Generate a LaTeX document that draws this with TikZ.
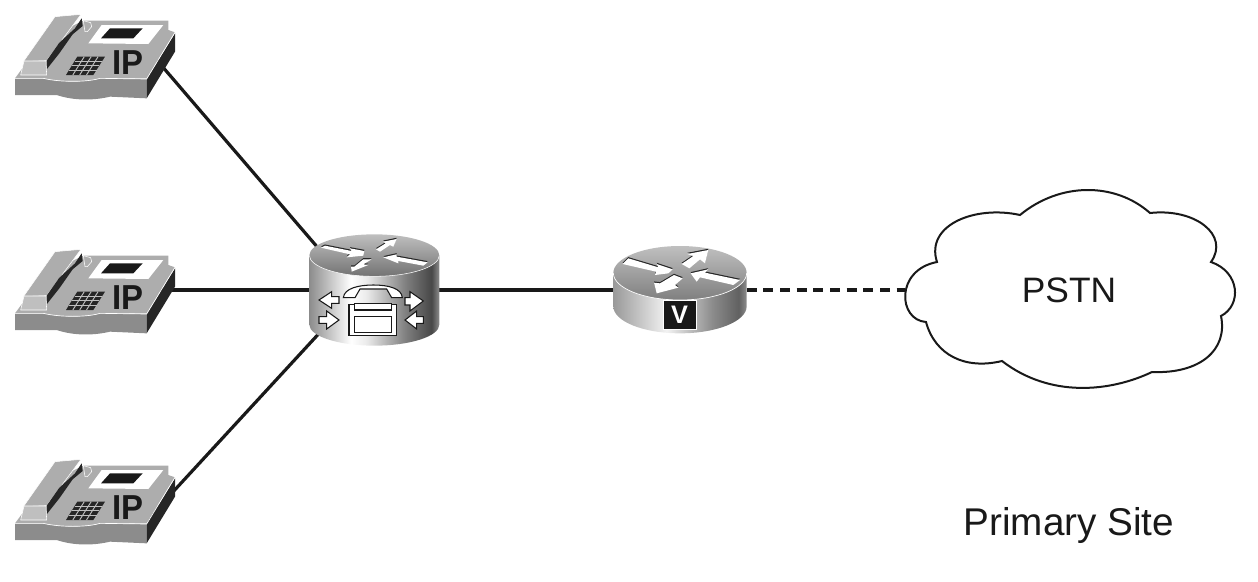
\documentclass[tikz,border=0pt]{standalone}
\usepackage{fontspec}
\setmainfont{Liberation Sans}
\usetikzlibrary{positioning}

\pgfdeclarehorizontalshading{routerSideA}{100bp}{color(0bp)=(black!45); color(25bp)=(black!45); color(41bp)=(white); color(47bp)=(black!8); color(62bp)=(black!50); color(72bp)=(black!72); color(75bp)=(black!45); color(100bp)=(black!45)}
\pgfdeclarehorizontalshading{routerSideB}{100bp}{color(0bp)=(black!40); color(25bp)=(black!40); color(45bp)=(black!5); color(62bp)=(black!45); color(72bp)=(black!62); color(75bp)=(black!45); color(100bp)=(black!45)}

\newcommand{\flatarrow}[1]{%
  \fill[black!85,yshift=0.9pt] #1 -- cycle;
  \fill[white] #1 -- cycle;}

\tikzset{
  devBox/.style={inner sep=0pt, outer sep=0pt, minimum width=75pt, minimum height=37.5pt},
  link/.style={line width=2.4pt, black!90},
  sideArrow/.style={fill=white, draw=black!90, line width=0.8pt},
  ipphone/.pic={
    \begin{scope}[x=0.25pt,y=-0.25pt]
    % front and side of the base
    \fill[black!45] (45,235) -- (130,235) .. controls (180,247) and (260,247) .. (300,235) -- (440,237)
      -- (440,295) -- (330,290) .. controls (280,302) and (220,302) .. (170,285) -- (45,285) -- cycle;
    \fill[black!85] (440,237) -- (525,100) -- (525,155) -- (440,295) -- cycle;
    % top surface
    \fill[black!32] (45,235) -- (130,120) -- (250,62) -- (505,62) -- (505,90) -- (525,97) -- (440,235)
      -- (300,235) .. controls (260,247) and (180,247) .. (130,235) -- cycle;
    \draw[white,line width=0.5pt] (45,235) -- (130,235) .. controls (180,247) and (260,247) .. (300,235) -- (440,237) -- (525,97);
    % handset
    \fill[black!32,draw=white,line width=0.4pt] (70,185) -- (165,50) -- (243,43) -- (140,182) -- cycle;
    \fill[black!85] (140,182) -- (178,128) -- (225,85) -- (245,55) -- (248,78) -- (218,103) -- (178,160) -- (140,208) -- cycle;
    \fill[black!25,draw=white,line width=0.4pt] (72,183) -- (138,183) -- (140,225) -- (62,225) -- cycle;
    \fill[black!32,draw=white,line width=0.4pt] (250,62) -- (272,68) -- (275,80) -- (262,95) -- (255,95) -- cycle;
    % screen
    \fill[white] (265,130) -- (305,75) -- (490,75) -- (445,132) -- cycle;
    \fill[black!90] (303,115) -- (330,85) -- (428,85) -- (400,115) -- cycle;
    % keypad
    \fill[black!85] (198,225) -- (232,170) -- (315,170) -- (280,225) -- cycle;
    \foreach \keyLine in {1,2,3}
      \draw[black!25,line width=0.7pt] (232-\keyLine*8.5,170+\keyLine*13.75) -- (315-\keyLine*8.5,170+\keyLine*13.75);
    \foreach \keyLine in {1,2,3}
      \draw[black!25,line width=0.7pt] (232+\keyLine*20.75,170) -- (198+\keyLine*20.5,225);
    \node[inner sep=0pt, font=\fontsize{26}{26}\bfseries\selectfont, text=black!90] (-tag) at (384,187) {\scalebox{.95}[1]{IP}};
    \end{scope}
  }
}

\begin{document}
\begin{tikzpicture}[x=0.75pt,y=-0.75pt]
\useasboundingbox (0,0) rectangle (1258,582);

% cloud
\draw[line width=1.5pt, black!90, fill=white] (1020,215) .. controls (1060,182) and (1115,182) .. (1150,213)
  .. controls (1195,208) and (1230,235) .. (1211,262)
  .. controls (1240,272) and (1242,305) .. (1221,316)
  .. controls (1228,350) and (1200,374) .. (1152,372)
  .. controls (1110,392) and (1050,398) .. (1002,361)
  .. controls (965,370) and (935,355) .. (926,322)
  .. controls (898,320) and (895,270) .. (937,262)
  .. controls (925,225) and (975,205) .. (1020,215) -- cycle;

% anchors for the connectors
\node[devBox] (phoneA) at (95,56) {};
\node[devBox] (phoneB) at (95,290) {};
\node[devBox] (phoneC) at (95,501) {};
\node[devBox, minimum width=67.5pt, minimum height=52.5pt] (callManager) at (375,290) {};
\node[devBox] (voiceRouter) at (680,290) {};
\node[devBox, minimum width=246pt, minimum height=20pt, font=\fontsize{26.5}{26.5}\selectfont, text=black!90] (pstn) at (1069,290) {PSTN};

% connectors
\draw[link] (phoneA.11) -- (callManager.148.5);
\draw[link] (phoneB.east) -- (callManager.west);
\draw[link] (phoneC.337) -- (callManager.215.4);
\draw[link] (callManager.east) -- (voiceRouter.west);
\draw[link, dash pattern=on 7.5pt off 5pt] (voiceRouter.east) -- (pstn.west);

% phones
\pic (iconA) at (0,0) {ipphone};
\pic (iconB) at (0,235) {ipphone};
\pic (iconC) at (0,445) {ipphone};

% router with the call manager
\begin{scope}[shift={(295,225)},x=0.25pt,y=-0.25pt]
\shade[shading=routerSideA] (43,91) -- (43,299) arc[start angle=180,end angle=0,x radius=195,y radius=63] -- (433,91) -- cycle;
\shade[top color=black!25, bottom color=black!55] (238,91) ellipse[x radius=195,y radius=63];
\draw[white,line width=0.4pt] (43,91) arc[start angle=180,end angle=0,x radius=195,y radius=63];
\flatarrow{(78,68) -- (90,62) -- (170,78) -- (165,70) -- (208,78) -- (205,92) -- (155,97) -- (165,88)}
\flatarrow{(243,73) -- (272,55) -- (265,50) -- (305,42) -- (295,65) -- (285,60) -- (255,80)}
\flatarrow{(265,97) -- (305,88) -- (305,95) -- (398,112) -- (385,122) -- (310,108) -- (310,115)}
\flatarrow{(230,103) -- (205,118) -- (220,120) -- (170,140) -- (168,125) -- (178,125) -- (205,103)}
\draw[sideArrow] (72,225) -- (110,200) -- (110,215) -- (132,215) -- (132,235) -- (110,235) -- (110,250) -- cycle;
\draw[sideArrow] (132,285) -- (95,258) -- (95,275) -- (72,275) -- (72,295) -- (95,295) -- (95,312) -- cycle;
\draw[sideArrow] (385,228) -- (345,200) -- (345,218) -- (330,218) -- (330,240) -- (345,240) -- (345,258) -- cycle;
\draw[sideArrow] (330,285) -- (365,258) -- (365,275) -- (385,275) -- (385,295) -- (365,295) -- (365,312) -- cycle;
\draw[sideArrow] (162,238) rectangle (305,332);
\draw[sideArrow] (178,235) rectangle (290,255);
\draw[sideArrow] (178,275) rectangle (290,322);
\draw[sideArrow] (145,218) .. controls (148,190) and (190,180) .. (235,180) .. controls (280,180) and (320,190) .. (322,218)
  -- (290,218) -- (275,192) -- (195,192) -- (180,218) -- cycle;
\end{scope}

% voice router
\begin{scope}[shift={(600,240)},x=0.25pt,y=-0.25pt]
\shade[shading=routerSideB] (40,99) -- (40,199) arc[start angle=180,end angle=0,x radius=200,y radius=81] -- (440,99) -- cycle;
\shade[top color=black!25, bottom color=black!50] (240,99) ellipse[x radius=200,y radius=81];
\draw[white,line width=0.5pt] (40,99) arc[start angle=180,end angle=0,x radius=200,y radius=81];
\flatarrow{(68,72) -- (85,55) -- (175,82) -- (170,72) -- (218,88) -- (205,100) -- (165,105) -- (168,95)}
\flatarrow{(245,72) -- (280,48) -- (262,42) -- (325,30) -- (315,70) -- (300,58) -- (268,85)}
\flatarrow{(272,100) -- (325,88) -- (315,98) -- (420,120) -- (400,135) -- (300,112) -- (290,125)}
\flatarrow{(248,115) -- (225,135) -- (235,143) -- (170,160) -- (162,128) -- (180,130) -- (222,105)}
\node[fill=black!90, draw=white, line width=0.7pt, minimum width=24.5pt, minimum height=22pt, inner sep=0pt,
  font=\fontsize{19}{19}\bfseries\selectfont, text=white] (voiceTag) at (239,224) {V};
\end{scope}

\node[font=\fontsize{29}{29}\selectfont, text=black!90, inner sep=0pt] (siteLabel) at (1069,525) {Primary Site};
\end{tikzpicture}
\end{document}
